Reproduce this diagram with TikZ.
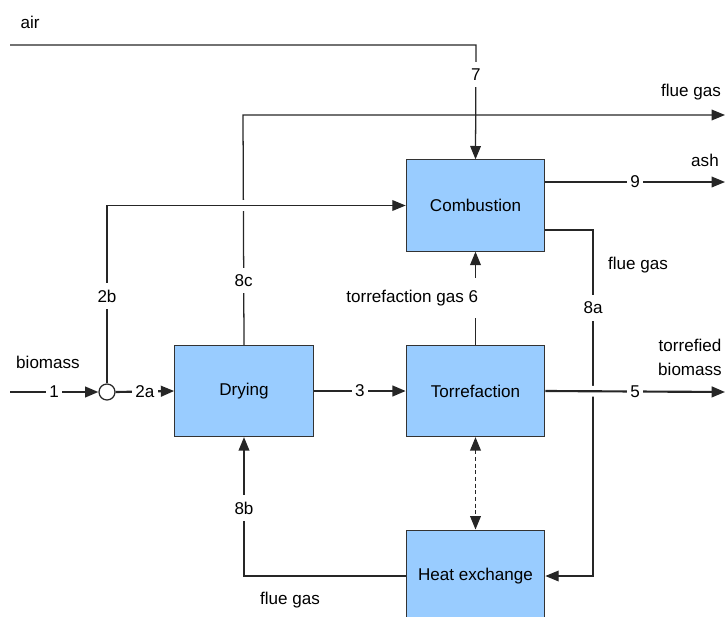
\documentclass[tikz,border=0pt]{standalone}
\usepackage{fontspec}
\setmainfont{Liberation Sans}
\usetikzlibrary{arrows.meta}
\definecolor{procblue}{HTML}{99CCFF}
\tikzset{
  proc/.style={draw=black!80, fill=procblue, line width=0.75pt, minimum width=104pt, minimum height=68.5pt},
  flow/.style={draw=black!85, line width=0.95pt},
  mainflow/.style={draw=black!85, line width=1.6pt},
  tip/.style={-{Triangle[length=10pt,width=8pt]}},
  lbl/.style={fill=white, inner xsep=2.5pt, inner ysep=5pt},
  txt/.style={inner sep=1pt},
  gapline/.style={draw=white, line width=8pt}
}

\begin{document}
\begin{tikzpicture}[x=0.75pt, y=-0.75pt, every node/.style={font=\fontsize{12.8}{15}\selectfont}]
\useasboundingbox (0,0) rectangle (725,617);

% process blocks
\node[proc] (comb) at (475.5,205.5) {Combustion};
\node[proc] (dry) at (244,391) {Drying};
\node[proc] (torr) at (475.5,391) {Torrefaction};
\node[proc, minimum height=69pt] (hex) at (475.5,576) {Heat exchange};
\node[draw=black!85, line width=0.95pt, circle, fill=white, minimum size=12pt, inner sep=0pt] (mix) at (107,392) {};

% bends and free ends
\coordinate (airin) at (10,45);
\coordinate (airk) at (476,45);
\coordinate (fgk) at (243,115);
\coordinate (fgout) at (725,115);
\coordinate (ashout) at (725,182);
\coordinate (ak1) at (593,230);
\coordinate (ak2) at (593,576);
\coordinate (bin) at (10,392);
\coordinate (bout) at (725,392);

% gas streams
\draw[flow, tip] (airin) -- (airk) -- node[lbl, pos=0.26] (s7) {7} (comb.north);
\draw[flow, tip] (dry.north) -- node[lbl, pos=0.28] (s8c) {8c} (fgk) -- (fgout);
\draw[gapline, shorten >=3pt] (mix.north) |- (comb.west);
\draw[flow, tip] (mix.north) |- node[lbl, pos=0.245] (s2b) {2b} (comb.west);
\draw[flow, tip] (comb.east |- ashout) -- node[lbl] (s9) {9} (ashout);
\draw[flow, tip] (comb.east |- ak1) -- (ak1) -- node[lbl, pos=0.225] (s8a) {8a} (ak2) -- (hex.east);
\draw[flow, tip] (torr.north) -- node[lbl, anchor=east, xshift=5pt, inner ysep=9pt] (s6) {torrefaction gas 6} (comb.south);
\draw[flow, tip] (hex.west) -| node[lbl, pos=0.745] (s8b) {8b} (dry.south);
\draw[flow, dash pattern=on 3pt off 2pt, {Triangle[length=10pt,width=8pt]}-{Triangle[length=10pt,width=8pt]}] (torr.south) -- (hex.north);

% solid streams
\draw[mainflow, tip] (bin) -- node[lbl] (s1) {1} (mix.west);
\draw[mainflow, tip] (mix.east) -- node[lbl] (s2a) {2a} (dry.west);
\draw[mainflow, tip] (dry.east) -- node[lbl] (s3) {3} (torr.west);
\draw[gapline, shorten <=3pt, shorten >=14pt] (torr.east) -- (bout);
\draw[mainflow, tip] (torr.east) -- node[lbl] (s5) {5} (bout);

% stream names
\node[txt] (tair) at (30,22) {air};
\node[txt] (tfg1) at (691,92) {flue gas};
\node[txt] (tash) at (705,160) {ash};
\node[txt] (tfg2) at (638,265) {flue gas};
\node[txt] (tbio) at (48,362) {biomass};
\node[txt, align=center, font=\fontsize{12.8}{18}\selectfont] (ttb) at (690,357) {torrefied\\biomass};
\node[txt] (tfg3) at (290,600) {flue gas};

\end{tikzpicture}
\end{document}
